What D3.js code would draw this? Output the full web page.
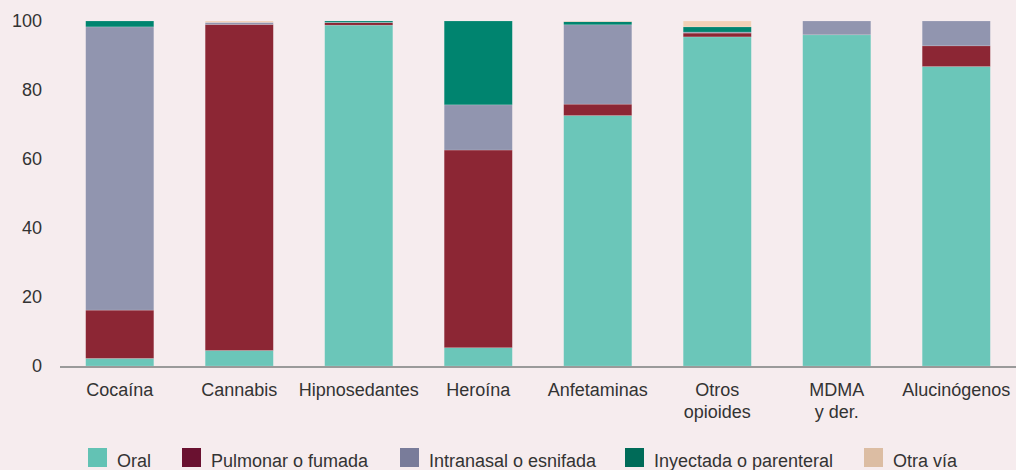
<!DOCTYPE html>
<html>
    <head>
        <meta charset="utf-8">
        <script src="https://cdn.jsdelivr.net/npm/d3@7"></script>
        <style>
            body { margin: 0; background: #f6ecee; }
            text { font-family: "Liberation Sans", Arial, sans-serif; fill: #333; }
        </style>
        <script>
            // categorias (dos lineas donde hace falta)
            var categories = [["Cocaína"], ["Cannabis"], ["Hipnosedantes"], ["Heroína"],
                              ["Anfetaminas"], ["Otros", "opioides"], ["MDMA", "y der."], ["Alucinógenos"]];
            var seriesNames = ["Oral", "Pulmonar o fumada", "Intranasal o esnifada", "Inyectada o parenteral", "Otra vía"];

            var oral       = [2.2, 4.5, 98.8, 5.3, 72.6, 95.4, 96.0, 86.8];
            var pulmonar   = [14.0, 94.5, 0.7, 57.3, 3.3, 1.1, 0, 6.0];
            var intranasal = [82.1, 0.6, 0.1, 13.1, 23.0, 0.3, 4.0, 7.2];
            var inyectada  = [1.7, 0, 0.4, 24.3, 0.9, 1.5, 0, 0];
            var otra       = [0, 0.4, 0, 0, 0.2, 1.7, 0, 0];

            var yTicks = [0, 20, 40, 60, 80, 100];

            var barColors = ["#6bc6b9", "#8c2634", "#9195af", "#00846f", "#f2d0b6"];
            var legendColors = ["#63c2b4", "#6a1130", "#797c9a", "#006b58", "#dcbda3"];

            function makeSVG() {
                var svg = d3.select("#fig");
                var width = +svg.attr("width");

                var x = d3.scaleBand().domain(d3.range(categories.length))
                                      .range([60, width])
                                      .paddingInner(0.43)
                                      .paddingOuter(0.215);
                var y = d3.scaleLinear().domain([0, 100]).range([366, 21]);

                var rows = categories.map(function(c, i) {
                    return { i: i, s0: oral[i], s1: pulmonar[i], s2: intranasal[i], s3: inyectada[i], s4: otra[i] };
                });
                var stack = d3.stack().keys(["s0", "s1", "s2", "s3", "s4"]);
                var layers = stack(rows);

                svg.selectAll("g.layer").data(layers)
                   .enter().append("g")
                   .attr("class", "layer")
                   .attr("fill", (d, k) => barColors[k])
                   .selectAll("rect").data(d => d.filter(p => p[1] > p[0]))
                   .enter().append("rect")
                   .attr("x", d => x(d.data.i))
                   .attr("width", x.bandwidth())
                   .attr("y", d => y(d[1]))
                   .attr("height", d => y(d[0]) - y(d[1]))
                   .attr("stroke", "rgba(255,255,255,0.25)")
                   .attr("stroke-width", 0.6);

                // eje y (solo etiquetas)
                svg.selectAll("text.ytick").data(yTicks)
                   .enter().append("text")
                   .attr("class", "ytick")
                   .attr("x", 42)
                   .attr("y", d => y(d))
                   .attr("dy", "0.35em")
                   .attr("text-anchor", "end")
                   .style("font-size", "18px")
                   .text(d => d);

                // linea base
                svg.append("line")
                   .attr("x1", 60).attr("x2", width)
                   .attr("y1", y(0) + 1).attr("y2", y(0) + 1)
                   .attr("stroke", "#9a9a9a")
                   .attr("stroke-width", 2);

                // etiquetas de categoria
                var lab = svg.selectAll("text.cat").data(categories)
                   .enter().append("text")
                   .attr("class", "cat")
                   .attr("text-anchor", "middle")
                   .style("font-size", "18px");
                lab.selectAll("tspan").data((d, i) => d.map(t => ({ t: t, i: i })))
                   .enter().append("tspan")
                   .attr("x", d => x(d.i) + x.bandwidth() / 2)
                   .attr("y", (d, j) => 396 + j * 22)
                   .text(d => d.t);

                // leyenda
                var legendX = [88, 182, 400, 625, 864];
                var leg = svg.selectAll("g.leg").data(seriesNames)
                   .enter().append("g")
                   .attr("class", "leg")
                   .attr("transform", (d, k) => "translate(" + legendX[k] + ",448)");
                leg.append("rect")
                   .attr("width", 19).attr("height", 19)
                   .attr("fill", (d, k) => legendColors[k]);
                leg.append("text")
                   .attr("x", 29).attr("y", 19)
                   .style("font-size", "18px")
                   .text(d => d);
            }
        </script>
    </head>
    <body onload="makeSVG()">
        <svg id="fig" width="1016" height="470"></svg>
    </body>
</html>
